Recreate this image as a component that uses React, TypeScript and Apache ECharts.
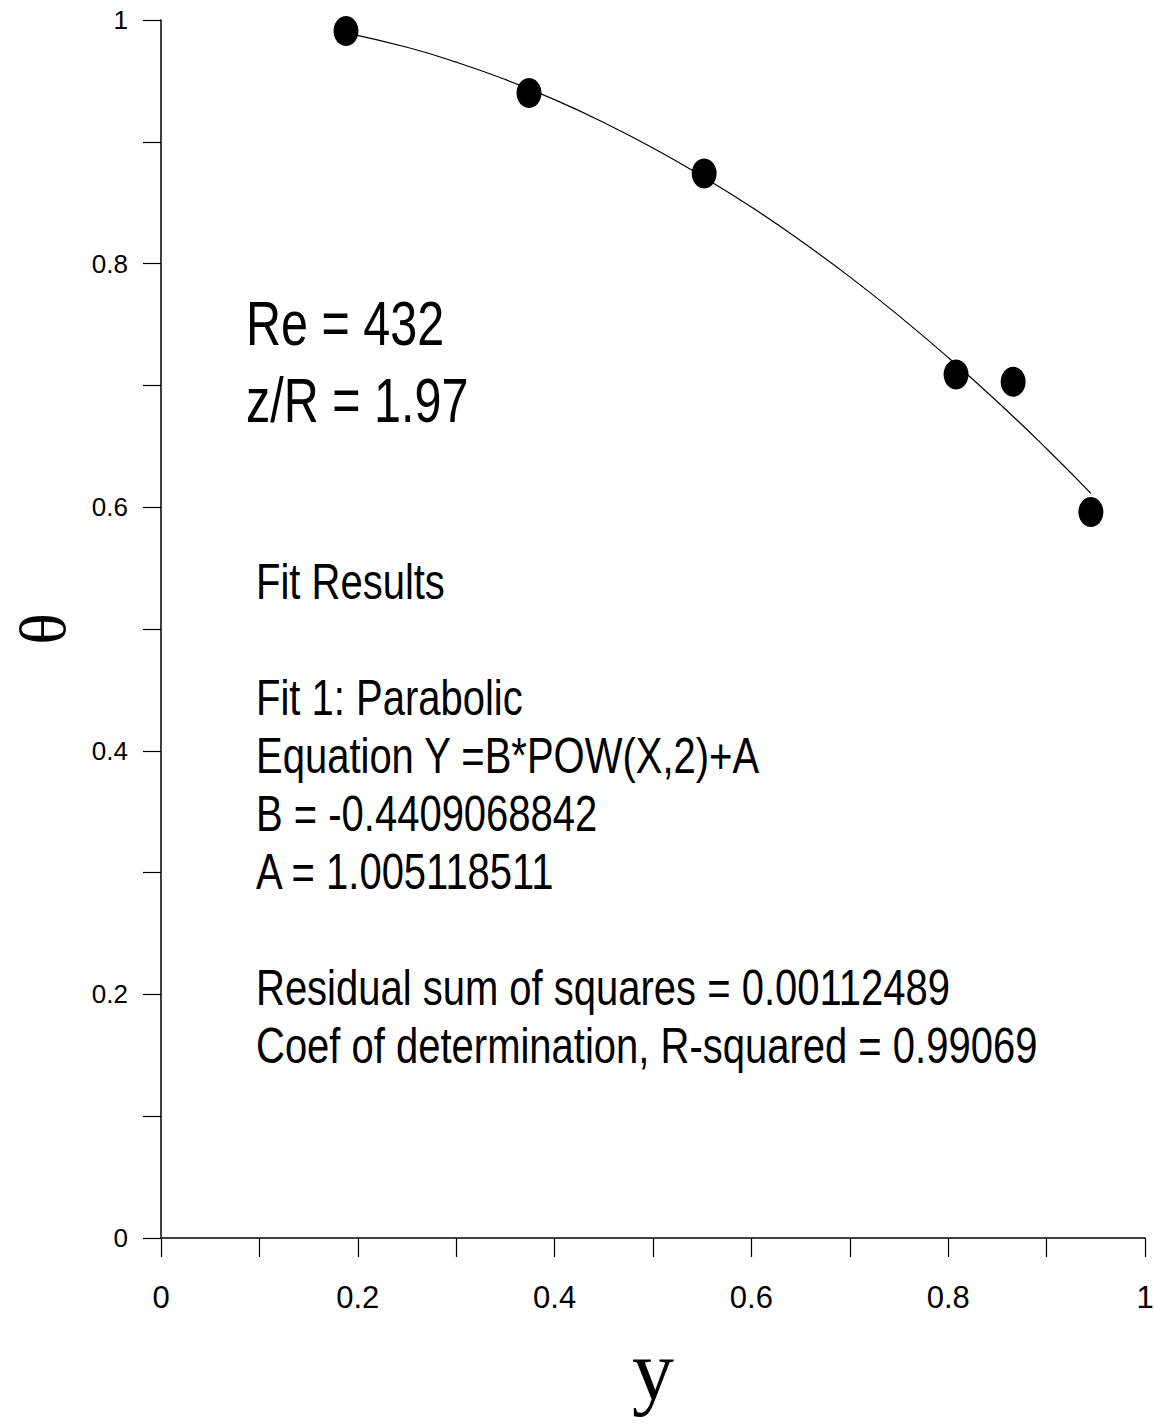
import React, { useEffect, useRef } from "react";
import * as echarts from "echarts";

const xTicks = [0, 0.2, 0.4, 0.6, 0.8, 1];
const yTicks = [0, 0.2, 0.4, 0.6, 0.8, 1];
const pointsX = [0.188, 0.374, 0.552, 0.808, 0.866, 0.945];
const pointsY = [0.991, 0.94, 0.874, 0.709, 0.703, 0.596];
const fitX = [0.188, 0.25, 0.3, 0.35, 0.4, 0.45, 0.5, 0.55, 0.6, 0.65, 0.7, 0.75, 0.8, 0.85, 0.9, 0.945];
const fitY = [0.9895, 0.9776, 0.9654, 0.9511, 0.9346, 0.9158, 0.8949, 0.8717, 0.8464, 0.8188, 0.7891, 0.7571, 0.7229, 0.6866, 0.648, 0.6114];
const headerLines = ["Re = 432", "z/R = 1.97"];
const fitLines = [
  "Fit Results",
  "",
  "Fit 1: Parabolic",
  "Equation Y =B*POW(X,2)+A",
  "B = -0.4409068842",
  "A = 1.005118511",
  "",
  "Residual sum of squares = 0.00112489",
  "Coef of determination, R-squared = 0.99069",
];

const SANS = '"Liberation Sans", Arial, sans-serif';
const SERIF = '"Liberation Serif", "Times New Roman", serif';

export default function App() {
  const ref = useRef<HTMLDivElement>(null);
  useEffect(() => {
    document.body.style.margin = "0";
    if (!ref.current) return;
    const chart = echarts.init(ref.current, undefined, { renderer: "svg" });
    const graphics: any[] = [];
    headerLines.forEach((t, i) => {
      graphics.push({
        type: "text",
        x: 246,
        y: 323 + i * 77,
        scaleY: 1.3,
        style: { text: t, fontSize: 48.5, fontFamily: SANS, fill: "#000", verticalAlign: "middle", align: "left" },
      });
    });
    fitLines.forEach((t, i) => {
      if (!t) return;
      graphics.push({
        type: "text",
        x: 256,
        y: 582 + i * 58,
        scaleY: 1.26,
        style: { text: t, fontSize: 40, fontFamily: SANS, fill: "#000", verticalAlign: "middle", align: "left" },
      });
    });
    chart.setOption({
      animation: false,
      backgroundColor: "#fff",
      grid: { left: 161, right: 10, top: 20, bottom: 186, containLabel: false, outerBoundsMode: "none" },
      xAxis: {
        type: "value",
        min: xTicks[0],
        max: xTicks[xTicks.length - 1],
        interval: 0.2,
        name: "y",
        nameLocation: "middle",
        nameGap: 90,
        nameTextStyle: { fontFamily: SERIF, fontSize: 84, color: "#000", lineHeight: 84 },
        axisLine: { show: true, lineStyle: { color: "#000", width: 1.5 } },
        axisTick: { show: true, inside: false, length: 19, lineStyle: { color: "#000", width: 1.2 } },
        minorTick: { show: true, splitNumber: 2, length: 19, lineStyle: { color: "#000", width: 1.2 } },
        splitLine: { show: false },
        axisLabel: {
          margin: 44,
          fontSize: 31,
          fontFamily: SANS,
          color: "#000",
          formatter: (v: number) => String(Number(v.toFixed(1))),
        },
      },
      yAxis: {
        type: "value",
        min: yTicks[0],
        max: yTicks[yTicks.length - 1],
        interval: 0.2,
        name: "θ",
        nameLocation: "middle",
        nameRotate: 90,
        nameGap: 86,
        nameTextStyle: { fontFamily: SERIF, fontSize: 66, color: "#000", lineHeight: 66 },
        axisLine: { show: true, lineStyle: { color: "#000", width: 1.5 } },
        axisTick: { show: true, inside: false, length: 18, lineStyle: { color: "#000", width: 1.2 } },
        minorTick: { show: true, splitNumber: 2, length: 18, lineStyle: { color: "#000", width: 1.2 } },
        splitLine: { show: false },
        axisLabel: {
          margin: 33,
          fontSize: 26,
          fontFamily: SANS,
          color: "#000",
          formatter: (v: number) => String(Number(v.toFixed(1))),
        },
      },
      series: [
        {
          type: "line",
          data: fitX.map((x, i) => [x, fitY[i]]),
          smooth: true,
          showSymbol: false,
          symbol: "none",
          lineStyle: { color: "#000", width: 1.2 },
          z: 2,
        },
        {
          type: "scatter",
          data: pointsX.map((x, i) => [x, pointsY[i]]),
          symbol: "circle",
          symbolSize: [25, 30],
          itemStyle: { color: "#000", opacity: 1 },
          z: 3,
        },
      ],
      graphic: graphics,
    });
    return () => chart.dispose();
  }, []);
  return <div ref={ref} style={{ width: 1155, height: 1424 }} />;
}
